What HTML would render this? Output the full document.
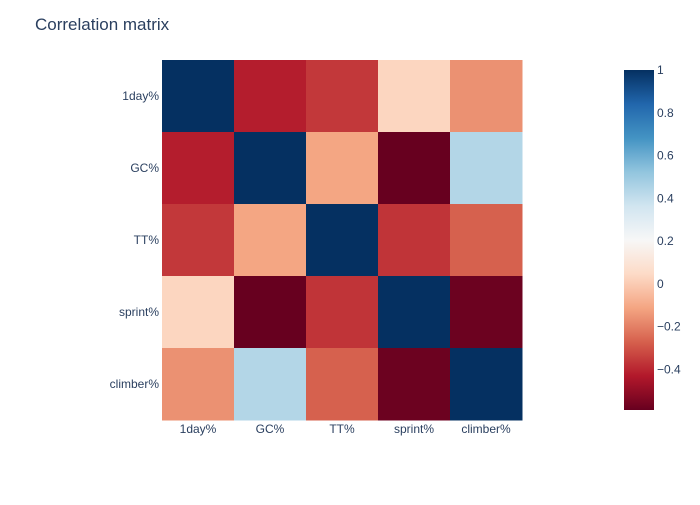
<!DOCTYPE html>
<html><head><meta charset="utf-8"><style>
body{margin:0;background:#fff;font-family:"Liberation Sans",sans-serif;}
svg text{font-family:"Liberation Sans",sans-serif;fill:#2a3f5f;}
</style></head><body>
<svg id="chart" width="700" height="500">
<rect width="700" height="500" fill="#fff"/>
<text x="35" y="30" font-size="17">Correlation matrix</text>
<g id="cells"></g><g id="xt"></g><g id="yt"></g>
<defs><linearGradient id="cbg" x1="0" y1="1" x2="0" y2="0"></linearGradient></defs>
<rect x="624" y="70" width="30" height="340" fill="url(#cbg)"/>
<g id="cbt"></g>
</svg>
<script>
const categories=["1day%","GC%","TT%","sprint%","climber%"];
const row0=[1,-0.42,-0.36,0.03,-0.16];
const row1=[-0.42,1,-0.11,-0.59,0.44];
const row2=[-0.36,-0.11,1,-0.37,-0.27];
const row3=[0.03,-0.59,-0.37,1,-0.58];
const row4=[-0.16,0.44,-0.27,-0.58,1];
const values=[row0,row1,row2,row3,row4];
const cbTicks=[1,0.8,0.6,0.4,0.2,0,-0.2,-0.4];
const scale=[[103,0,31],[178,24,43],[214,96,77],[244,165,130],[253,219,199],[247,247,247],[209,229,240],[146,197,222],[67,147,195],[33,102,172],[5,48,97]];
const NS="http://www.w3.org/2000/svg";
const zmin=Math.min(...values.flat()), zmax=Math.max(...values.flat());
function color(v){let t=(v-zmin)/(zmax-zmin);t=Math.max(0,Math.min(1,t));const p=t*10,i=Math.min(9,Math.floor(p)),f=p-i;const a=scale[i],b=scale[i+1];return `rgb(${a.map((c,k)=>Math.round(c+(b[k]-c)*f)).join(',')})`;}
const X0=162,Y0=60,W=360,H=360,n=categories.length,cw=W/n,ch=H/n;
const xs=i=>X0+i*cw, ys=j=>Y0+j*ch;
const cells=document.getElementById('cells');
values.forEach((row,j)=>row.forEach((v,i)=>{const r=document.createElementNS(NS,'rect');
r.setAttribute('x',xs(i));r.setAttribute('y',ys(j));r.setAttribute('width',cw+0.5);r.setAttribute('height',ch+0.5);r.setAttribute('fill',color(v));


cells.appendChild(r);}));
categories.forEach((c,i)=>{let t=document.createElementNS(NS,'text');t.setAttribute('x',xs(i)+cw/2);t.setAttribute('y',433);t.setAttribute('font-size','12');t.setAttribute('text-anchor','middle');t.textContent=c;


document.getElementById('xt').appendChild(t);
t=document.createElementNS(NS,'text');t.setAttribute('x',159);t.setAttribute('y',ys(i)+ch/2+4);t.setAttribute('font-size','12');t.setAttribute('text-anchor','end');t.textContent=c;


document.getElementById('yt').appendChild(t);});
const g=document.getElementById('cbg');
for(let k=0;k<=20;k++){const v=zmin+(zmax-zmin)*k/20;const s=document.createElementNS(NS,'stop');s.setAttribute('offset',k/20);s.setAttribute('stop-color',color(v));g.appendChild(s);}
const cby=v=>410-(v-zmin)/(zmax-zmin)*340;
cbTicks.forEach(v=>{const t=document.createElementNS(NS,'text');t.setAttribute('x',657);t.setAttribute('y',cby(v)+4);t.setAttribute('font-size','12');t.textContent=v<0?'\u2212'+Math.abs(v):String(v);


document.getElementById('cbt').appendChild(t);});
</script>
</body></html>
